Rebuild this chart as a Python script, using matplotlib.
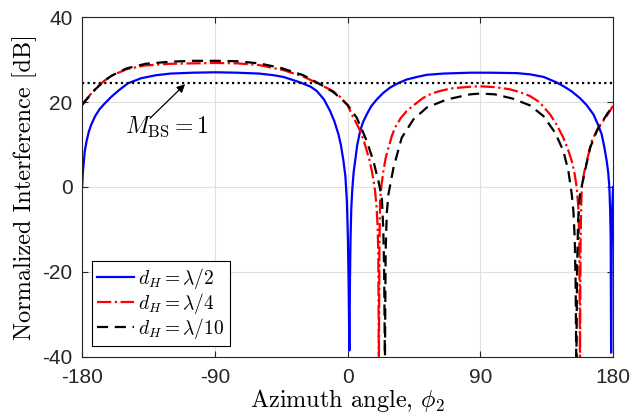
import numpy as np
import matplotlib
matplotlib.use("Agg")
import matplotlib.pyplot as plt

plt.rcParams['mathtext.fontset'] = 'cm'
plt.rcParams['font.family'] = ['Liberation Sans', 'DejaVu Sans']
plt.rcParams['axes.unicode_minus'] = False

# d_H = lambda/2
phi_half = [-180, -179.5, -179, -178.2, -177, -175.5, -173.7, -171, -168, -164.6,
            -160, -155, -149, -140, -130, -120, -105, -90, -75, -60, -50, -43.5,
            -32, -25, -20.9, -16, -11.9, -9, -6.2, -4.5, -2.8, -1.5, -0.5, 0.2,
            0.7, 1.2, 1.6, 2.0, 2.5, 3.2, 4.1, 5.1, 6.5, 8.5, 10.5, 13, 16, 19.8, 24,
            28.8, 34, 40.1, 47, 53.7, 65, 83, 97, 115, 124, 133, 141.8, 147, 152,
            157.6, 162, 166.7, 170, 172.3, 174.2, 175.7, 176.7, 177.5, 178.0, 178.4,
            178.7, 179.1, 179.5, 180]
db_half = [0, 3.5, 5.5, 8.5, 10.8, 13, 14.8, 16.8, 18.4, 19.7,
           21.3, 22.8, 24.4, 25.6, 26.3, 26.7, 26.9, 27.0, 26.9, 26.7, 26.3, 25.9,
           24.6, 23.6, 22.6, 20.6, 17.9, 15.5, 12.4, 9.8, 6.1, 2.5, -3.3, -12,
           -22.8, -38.5, -22, -12, -5, -0.5, 3.5, 6.1, 9.8, 13.2, 15.3, 17.1, 19, 20.6, 22.1,
           23.4, 24.4, 25.3, 25.9, 26.4, 26.7, 26.9, 26.9, 26.8, 26.5, 25.9, 24.6, 23.6, 22.5,
           20.9, 19.3, 17.1, 14.5, 12.4, 9.2, 6.1, 3.5, 0, -5, -12,
           -39, -15, -5, 0]

# d_H = lambda/4
phi_quarter = [-180, -177, -171.4, -165, -160, -150, -137.5, -120, -105, -90, -75,
               -60, -43.5, -30, -20.9, -10, -5, 0, 3.9, 6, 8.5, 11, 13, 14.8, 16.4,
               17.6, 18.6, 19.6, 20.3, 20.8, 21.2, 21.6, 22.0, 23.0, 24.3, 25.8, 27.7,
               30, 32.2, 36, 40.1, 45, 51.4, 57, 62.7, 70, 83, 90, 100, 110, 117, 123.7,
               130, 137.3, 142, 146.3, 149.5, 152, 154, 155.4, 156.5, 157.1, 157.6,
               158.0, 158.4, 158.8, 160.3, 162.2, 165.6, 170, 175.7, 180]
db_quarter = [19.5, 20.7, 23.0, 25.0, 26.2, 27.7, 28.6, 29.0, 29.1, 29.2, 29.1,
              28.7, 27.5, 26, 24.5, 22.6, 21.2, 19.3, 16.3, 15.0, 13.2, 10.9, 8.5, 6.4, 3.8,
              1.6, -0.9, -4.5, -9, -15, -42, -14, -3.3, 0.5, 3.8, 6.8, 9.2,
              12, 14, 16.2, 17.9, 19.3, 21, 22, 22.6, 23.2, 23.6, 23.7, 23.5, 23.0, 22.3, 21.4,
              20, 17.1, 14.5, 11.6, 8.8, 6.1, 3, -0.2, -5, -12, -42,
              -12, -5, -0.2, 3.2, 6.1, 10.8, 14, 16.7, 19.1]

# d_H = lambda/10
phi_tenth = [-180, -177, -171, -165, -160, -150, -137, -120, -105, -90, -75, -60,
             -45, -30, -18.6, -10, -5.1, 0, 6.2, 10, 13, 17.5, 20.9, 23.2, 24.2,
             24.8, 25.3, 25.8, 26.6, 27.7, 31.1, 36.7, 44.6, 53.7, 67.3, 83, 90,
             100, 112, 123.7, 132.8, 140.7, 146.3, 149.7, 152, 153.1, 154, 154.6,
             155.1, 155.6, 156.3, 157.6, 161, 164.4, 169, 172, 176, 180]
db_tenth = [19.3, 20.6, 23, 25.0, 26.2, 27.9, 29, 29.5, 29.7, 29.7, 29.6, 29.1,
            28, 26.3, 24.2, 22.4, 21, 19.3, 16.3, 13.3, 10.8, 6.1, 1.4, -2.5, -10,
            -20, -42, -15, -6, -1.7, 4.5, 11.6, 15.9, 18.7, 20.6, 21.8, 22.0,
            21.8, 20.8, 19.2, 16.7, 12.8, 8.5, 3.8, -1.7, -5.6, -12, -22,
            -42, -20, -8, -1.7, 3.8, 9.2, 13.2, 15, 17.2, 19.1]

m_bs_level = 24.5

fig = plt.figure(figsize=(6.32, 4.16), dpi=100)
ax = fig.add_axes([0.130, 0.142, 0.840, 0.817])

ax.plot(phi_half, db_half, color='#0000ff', lw=1.6, label=r'$d_H=\lambda/2$')
ax.plot(phi_quarter, db_quarter, color='#ff0000', lw=1.6, ls='-.', label=r'$d_H=\lambda/4$')
ax.plot(phi_tenth, db_tenth, color='black', lw=1.6, ls=(0, (5, 3)), label=r'$d_H=\lambda/10$')
ax.plot([-180, 180], [m_bs_level, m_bs_level], color='black', lw=1.6, ls=(0, (1, 1.5)))

# annotation: text plus arrow pointing at the dotted line
ax.text(-122.7, 14.2, r'$M_{\rm BS}=1$', fontsize=17, ha='center', va='center')
ax.annotate('', xy=(-110.2, 24.2), xytext=(-133.9, 16.2),
            arrowprops=dict(arrowstyle='-|>', color='black', lw=0.9,
                            shrinkA=0, shrinkB=0, mutation_scale=12))

ax.set_xlim(-180, 180)
ax.set_ylim(-40, 40)
ax.set_xticks([-180, -90, 0, 90, 180])
ax.set_yticks([-40, -20, 0, 20, 40])
ax.grid(True, color='#e0e0e0', lw=0.8)
ax.set_axisbelow(True)
ax.tick_params(direction='in', labelsize=15, colors='#262626', length=4, top=True, right=True)
ax.tick_params(axis='x', pad=8)
ax.tick_params(axis='y', pad=7)
for s in ax.spines.values():
    s.set_color('#262626')
    s.set_linewidth(0.8)

ax.set_xlabel(r'Azimuth angle, $\phi_2$', fontsize=17.5, family='cmr10', labelpad=0)
ax.set_ylabel('Normalized Interference [dB]', fontsize=17.5, family='cmr10', labelpad=4)

leg = ax.legend(loc='lower left', bbox_to_anchor=(0.018, 0.033), borderaxespad=0,
                fontsize=14, handlelength=1.9, handletextpad=0.25, borderpad=0.25,
                labelspacing=0.0, fancybox=False, framealpha=1, edgecolor='black')
leg.get_frame().set_linewidth(0.8)

fig.savefig('out.png', dpi=100)
